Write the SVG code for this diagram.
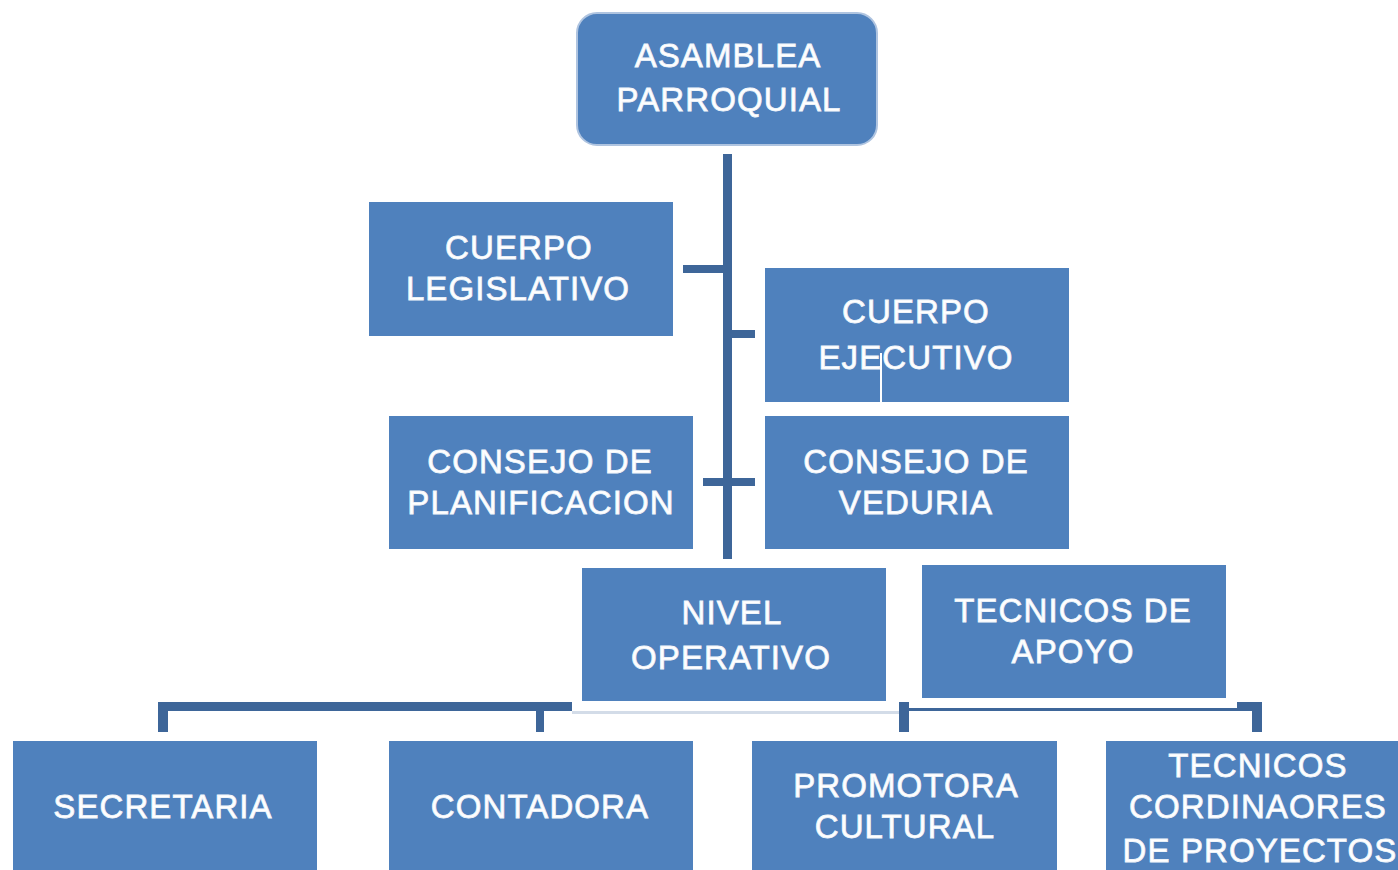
<svg xmlns="http://www.w3.org/2000/svg" width="1398" height="870" viewBox="0 0 1398 870">
<style>
.box{fill:#4F81BD}
.t{font-family:"Liberation Sans",Arial,sans-serif;font-size:33px;fill:#FFFFFF;stroke:#F2F6FB;stroke-width:0.8px;text-anchor:middle;letter-spacing:1.1px}
.c{fill:#3E6699}
.lt{fill:#D3DCE8}
</style>
<rect width="1398" height="870" fill="#FFFFFF"/>
<g id="connectors">
<rect class="c" x="723" y="154" width="9" height="405"/>
<rect class="c" x="683" y="265" width="40" height="8"/>
<rect class="c" x="732" y="330" width="23" height="8"/>
<rect class="c" x="703" y="478" width="52" height="8"/>
<rect class="c" x="158" y="702" width="414" height="9"/>
<rect class="c" x="158" y="702" width="10" height="30"/>
<rect class="c" x="536" y="702" width="8" height="30"/>
<rect class="lt" x="572" y="711" width="328" height="3"/>
<rect class="c" x="899" y="702" width="10" height="30"/>
<rect class="c" x="909" y="708" width="344" height="3"/>
<rect class="c" x="1237" y="702" width="25" height="9"/>
<rect class="c" x="1252" y="702" width="10" height="30"/>
<rect x="880" y="353" width="2" height="52" fill="#FFFFFF"/>
</g>
<g id="asamblea">
<rect x="577" y="13" width="300" height="132" rx="20" fill="#4F81BD" stroke="#AFC4E0" stroke-width="2"/>
<text class="t" x="728" y="67">ASAMBLEA</text>
<text class="t" x="729" y="111">PARROQUIAL</text>
</g>
<g id="legislativo">
<rect class="box" x="369" y="202" width="304" height="134"/>
<text class="t" x="519" y="259">CUERPO</text>
<text class="t" x="518" y="300">LEGISLATIVO</text>
</g>
<g id="ejecutivo">
<rect class="box" x="765" y="268" width="304" height="134"/>
<text class="t" x="916" y="323">CUERPO</text>
<text class="t" x="916" y="369">EJECUTIVO</text>
<rect x="880" y="353" width="2" height="49" fill="#FFFFFF"/>
</g>
<g id="planificacion">
<rect class="box" x="389" y="416" width="304" height="133"/>
<text class="t" x="540" y="473">CONSEJO DE</text>
<text class="t" x="541" y="514">PLANIFICACION</text>
</g>
<g id="veduria">
<rect class="box" x="765" y="416" width="304" height="133"/>
<text class="t" x="916" y="473">CONSEJO DE</text>
<text class="t" x="916" y="514">VEDURIA</text>
</g>
<g id="operativo">
<rect class="box" x="582" y="568" width="304" height="133"/>
<text class="t" x="732" y="624">NIVEL</text>
<text class="t" x="731" y="669">OPERATIVO</text>
</g>
<g id="apoyo">
<rect class="box" x="922" y="565" width="304" height="133"/>
<text class="t" x="1073" y="622">TECNICOS DE</text>
<text class="t" x="1073" y="663">APOYO</text>
</g>
<g id="secretaria">
<rect class="box" x="13" y="741" width="304" height="129"/>
<text class="t" x="163" y="818">SECRETARIA</text>
</g>
<g id="contadora">
<rect class="box" x="389" y="741" width="304" height="129"/>
<text class="t" x="540" y="818">CONTADORA</text>
</g>
<g id="promotora">
<rect class="box" x="752" y="741" width="305" height="129"/>
<text class="t" x="906" y="797">PROMOTORA</text>
<text class="t" x="905" y="838">CULTURAL</text>
</g>
<g id="tecnicos">
<rect class="box" x="1106" y="741" width="292" height="129"/>
<text class="t" x="1258" y="777">TECNICOS</text>
<text class="t" x="1258" y="818">CORDINAORES</text>
<text class="t" x="1260" y="862">DE PROYECTOS</text>
</g>
</svg>
